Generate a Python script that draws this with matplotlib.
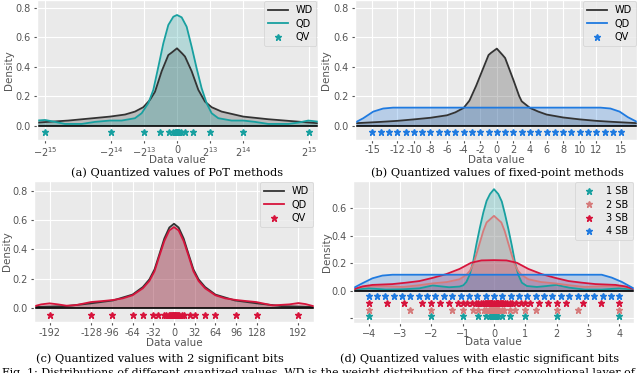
import matplotlib.pyplot as plt

# (a) PoT quantization
wd_a_x = [-34840, -26980, -16630, -12910, -10430, -8360, -6700, -5460, -3800, -2150, -1320, 0,
          1320, 1990, 3640, 5300, 6950, 8600, 11090, 16470, 22670, 27640, 34920]
wd_a_y = [0.020, 0.034, 0.061, 0.075, 0.095, 0.125, 0.175, 0.230, 0.370, 0.480, 0.497, 0.526,
          0.490, 0.470, 0.370, 0.243, 0.163, 0.125, 0.095, 0.061, 0.043, 0.032, 0.016]
qd_a_x = [-34840, -32770, -30290, -27800, -23670, -20360, -16630, -13740, -10430, -8770, -7120,
          -5875, -4630, -3390, -2150, -910, 0, 1160, 2400, 3640, 4880, 6120, 7365, 8600, 10260,
          13570, 16470, 19360, 22670, 27640, 30120, 32600, 34920]
qd_a_y = [0.034, 0.038, 0.025, 0.011, 0.011, 0.025, 0.034, 0.034, 0.050, 0.084, 0.152,
          0.243, 0.400, 0.560, 0.685, 0.741, 0.753, 0.737, 0.673, 0.537, 0.390, 0.254, 0.152,
          0.084, 0.050, 0.034, 0.034, 0.025, 0.011, 0.011, 0.020, 0.034, 0.027]
qv_a = [-32768, -16384, -8192, -4096, -2048, -1024, -512, -256, -128, -64, -32, -16, -8, -4, -2, -1, 0,
        1, 2, 4, 8, 16, 32, 64, 128, 256, 512, 1024, 2048, 4096, 8192, 16384, 32768]
ticks_a = [-32768, -16384, -8192, 0, 8192, 16384, 32768]
labels_a = [r'$-2^{15}$', r'$-2^{14}$', r'$-2^{13}$', '0', r'$2^{13}$', r'$2^{14}$', r'$2^{15}$']

# (b) fixed-point quantization
wd_b_x = [-17, -14, -12, -10, -8, -6, -5, -4, -3.3, -2.5, -2, -1, -0.7, 0, 0.7, 1, 2, 2.7, 3,
          4, 5, 6, 8, 10, 12, 14, 17]
wd_b_y = [0.016, 0.025, 0.032, 0.042, 0.053, 0.070, 0.090, 0.120, 0.170, 0.270, 0.340, 0.480,
          0.495, 0.524, 0.480, 0.460, 0.310, 0.200, 0.165, 0.120, 0.095, 0.075, 0.055, 0.042,
          0.032, 0.025, 0.016]
qd_b_x = [-17, -16.1, -14.9, -13.7, -12.5, 12.5, 13.7, 14.8, 15.8, 16.9]
qd_b_y = [0.023, 0.050, 0.095, 0.116, 0.122, 0.122, 0.116, 0.095, 0.057, 0.025]
qv_b = [-15, -14, -13, -12, -11, -10, -9, -8, -7, -6, -5, -4, -3, -2, -1, 0,
        1, 2, 3, 4, 5, 6, 7, 8, 9, 10, 11, 12, 13, 14, 15]
ticks_b = [-15, -12, -10, -8, -6, -4, -2, 0, 2, 4, 6, 8, 10, 12, 15]
labels_b = ['-15', '-12', '-10', '-8', '-6', '-4', '-2', '0', '2', '4', '6', '8', '10', '12', '15']

# (c) 2 significant bits
wd_c_x = [-215, -166, -128, -94, -64, -48, -38, -30, -22.6, -14.9, -7.2, 0,
          7.2, 14.9, 22.6, 30, 38, 48, 64, 94, 128, 166, 215]
wd_c_y = [0.005, 0.011, 0.030, 0.050, 0.090, 0.142, 0.194, 0.263, 0.366, 0.475, 0.550, 0.576,
          0.550, 0.475, 0.366, 0.263, 0.194, 0.142, 0.090, 0.050, 0.030, 0.011, 0.005]
qd_c_x = [-215, -205, -192, -179, -166, -151, -128, -110, -94, -79, -64, -48, -38, -30, -22.6,
          -14.9, -7.2, 0, 7.2, 14.9, 22.6, 30, 38, 48, 64, 79, 96, 111, 127, 152, 178, 192, 203, 215]
qd_c_y = [0.011, 0.023, 0.030, 0.023, 0.014, 0.018, 0.039, 0.046, 0.053, 0.064, 0.085, 0.133,
          0.183, 0.250, 0.354, 0.457, 0.530, 0.553, 0.530, 0.457, 0.354, 0.250, 0.183, 0.133,
          0.085, 0.064, 0.053, 0.046, 0.039, 0.016, 0.023, 0.032, 0.025, 0.011]
qv_c = [-192, -128, -96, -64, -48, -32, -24, -16, -12, -8, -6, -4, -3, -2, -1, 0,
        1, 2, 3, 4, 6, 8, 12, 16, 24, 32, 48, 64, 96, 128, 192]
ticks_c = [-192, -128, -96, -64, -32, 0, 32, 64, 96, 128, 192]
labels_c = ['-192', '-128', '-96', '-64', '-32', '0', '32', '64', '96', '128', '192']

# (d) elastic significant bits
sb1_x = [-4.47, -4.0, -3.45, -2.92, -2.38, -1.96, -1.43, -1.1, -0.98, -0.88, -0.77, -0.66, -0.56,
         -0.45, -0.34, -0.235, -0.128, 0, 0.14, 0.25, 0.35, 0.46, 0.57, 0.67, 0.78, 0.89, 1.05,
         1.37, 1.69, 2.0, 2.4, 2.9, 3.45, 4.0, 4.47]
sb1_y = [0.010, 0.019, 0.010, 0.012, 0.019, 0.040, 0.027, 0.032, 0.041, 0.066, 0.121, 0.218, 0.340,
         0.460, 0.570, 0.655, 0.704, 0.740, 0.704, 0.650, 0.560, 0.450, 0.330, 0.210, 0.115, 0.060,
         0.036, 0.029, 0.036, 0.044, 0.024, 0.010, 0.010, 0.019, 0.010]
sb2_x = [-4.47, -4.0, -3.45, -2.9, -2.38, -1.96, -1.5, -1.1, -0.88, -0.77, -0.66, -0.56, -0.45,
         -0.34, -0.235, 0, 0.235, 0.34, 0.45, 0.56, 0.66, 0.77, 0.88, 1.1, 1.5, 1.96, 2.38,
         2.9, 3.45, 4.0, 4.47]
sb2_y = [0.019, 0.034, 0.034, 0.029, 0.042, 0.055, 0.065, 0.085, 0.117, 0.146, 0.194, 0.267, 0.352,
         0.437, 0.498, 0.546, 0.498, 0.437, 0.352, 0.267, 0.194, 0.146, 0.117, 0.085, 0.065, 0.055,
         0.042, 0.029, 0.034, 0.034, 0.019]
sb3_x = [-4.47, -4.2, -3.88, -3.24, -2.81, -2.38, -1.96, -1.53, -1.1, -0.73, -0.4, 0,
         0.4, 0.73, 1.1, 1.53, 1.96, 2.38, 2.81, 3.24, 3.88, 4.2, 4.47]
sb3_y = [0.012, 0.033, 0.044, 0.050, 0.060, 0.072, 0.095, 0.122, 0.160, 0.205, 0.222, 0.224,
         0.222, 0.205, 0.160, 0.122, 0.095, 0.072, 0.060, 0.050, 0.044, 0.033, 0.012]
sb4_x = [-4.5, -4.2, -3.88, -3.56, -3.24, 3.44, 3.76, 4.08, 4.47]
sb4_y = [0.020, 0.056, 0.092, 0.112, 0.118, 0.118, 0.097, 0.066, 0.017]
qv_d1 = [-4, -2, -1, -0.5, -0.25, -0.125, -0.0625, -0.03125, 0, 0.03125, 0.0625, 0.125, 0.25,
         0.5, 1, 2, 4]
qv_d2 = [-4, -2.667, -2, -1.333, -1, -0.667, -0.5, -0.333, -0.25, -0.167, -0.125, -0.083, -0.0625,
         -0.042, 0, 0.042, 0.0625, 0.083, 0.125, 0.167, 0.25, 0.333, 0.5, 0.667, 1, 1.333, 2,
         2.667, 4]
qv_d3 = [-4, -3.429, -2.857, -2.286, -2, -1.714, -1.429, -1.143, -1, -0.857, -0.714, -0.571, -0.5,
         -0.429, -0.357, -0.286, -0.25, -0.214, -0.179, -0.143, -0.125, -0.107, -0.089, -0.071,
         -0.0625, 0, 0.0625, 0.071, 0.089, 0.107, 0.125, 0.143, 0.179, 0.214, 0.25, 0.286, 0.357,
         0.429, 0.5, 0.571, 0.714, 0.857, 1, 1.143, 1.429, 1.714, 2, 2.286, 2.857, 3.429, 4]
qv_d4 = [-4, -3.733, -3.467, -3.2, -2.933, -2.667, -2.4, -2.133, -1.867, -1.6, -1.333, -1.067,
         -0.8, -0.533, -0.267, 0, 0.267, 0.533, 0.8, 1.067, 1.333, 1.6, 1.867, 2.133, 2.4, 2.667,
         2.933, 3.2, 3.467, 3.733, 4]

TEAL = '#18a0a0'
BLUE = '#1f7ae0'
RED = '#d7143c'
SALMON = '#d67b7b'
GRAY = '#333333'

plt.style.use('ggplot')
plt.rcParams['axes.facecolor'] = '#EAEAEA'
plt.rcParams['xtick.labelsize'] = 7
plt.rcParams['ytick.labelsize'] = 7
plt.rcParams['xtick.major.size'] = 2.5
plt.rcParams['ytick.major.size'] = 2.5
plt.rcParams['xtick.major.pad'] = 1.5
plt.rcParams['ytick.major.pad'] = 2
plt.rcParams['axes.labelsize'] = 7.5
plt.rcParams['axes.labelcolor'] = '#555555'
plt.rcParams['legend.fontsize'] = 7
plt.rcParams['legend.labelspacing'] = 0.35
plt.rcParams['legend.borderaxespad'] = 0.15

fig = plt.figure(figsize=(6.4, 3.73), dpi=100)


def set_labels(ax, xl, yl):
    ax.set_xlabel('Data value', va='center')
    ax.set_ylabel('Density', va='center')
    ax.xaxis.set_label_coords(0.5, xl)
    ax.yaxis.set_label_coords(yl, 0.5)


def density_panel(rect, wd_x, wd_y, qd_x, qd_y, qv, color, xlim, ylim, qv_y):
    ax = fig.add_axes(rect)
    ax.plot(wd_x, wd_y, color=GRAY, lw=1.3, label='WD')
    ax.fill_between(wd_x, wd_y, color=GRAY, alpha=0.25, lw=0)
    ax.plot(qd_x, qd_y, color=color, lw=1.3, label='QD')
    ax.fill_between(qd_x, qd_y, color=color, alpha=0.25, lw=0)
    ax.plot(qv, [qv_y] * len(qv), '*', color=color, ms=5, ls='none', label='QV')
    ax.axhline(0, color='black', lw=1.2)
    ax.set_xlim(xlim)
    ax.set_ylim(ylim)
    ax.set_yticks([0.0, 0.2, 0.4, 0.6, 0.8])
    ax.legend(loc='upper right')
    return ax


ax = density_panel([0.0573, 0.626, 0.4395, 0.374], wd_a_x, wd_a_y, qd_a_x, qd_a_y, qv_a, TEAL,
                   (-34840, 35000), (-0.095, 0.855), -0.047)
ax.set_xticks(ticks_a, labels_a)
set_labels(ax, -0.147, -0.097)

ax = density_panel([0.5547, 0.626, 0.4406, 0.374], wd_b_x, wd_b_y, qd_b_x, qd_b_y, qv_b, BLUE,
                   (-17.1, 16.9), (-0.095, 0.855), -0.047)
ax.set_xticks(ticks_b, labels_b)
set_labels(ax, -0.147, -0.102)

ax = density_panel([0.0531, 0.1367, 0.4375, 0.378], wd_c_x, wd_c_y, qd_c_x, qd_c_y, qv_c, RED,
                   (-216, 216), (-0.098, 0.869), -0.052)
ax.set_xticks(ticks_c, labels_c)
set_labels(ax, -0.147, -0.097)

ax = fig.add_axes([0.5516, 0.134, 0.439, 0.381])
for xs, ys, qv, c, name, row in [(sb1_x, sb1_y, qv_d1, TEAL, '1 SB', -0.185),
                                 (sb2_x, sb2_y, qv_d2, SALMON, '2 SB', -0.135),
                                 (sb3_x, sb3_y, qv_d3, RED, '3 SB', -0.085),
                                 (sb4_x, sb4_y, qv_d4, BLUE, '4 SB', -0.035)]:
    ax.plot(xs, ys, color=c, lw=1.3)
    ax.fill_between(xs, ys, color=c, alpha=0.25, lw=0)
    ax.plot(qv, [row] * len(qv), '*', color=c, ms=5, ls='none', label=name)
ax.axhline(0, color='black', lw=1.2)
ax.set_xlim(-4.5, 4.47)
ax.set_ylim(-0.233, 0.80)
ax.set_yticks([-0.2, 0.0, 0.2, 0.4, 0.6], ['', '0.0', '0.2', '0.4', '0.6'])
ax.set_xticks([-4, -3, -2, -1, 0, 1, 2, 3, 4])
set_labels(ax, -0.137, -0.093)
ax.legend(loc='upper right')

cap = dict(ha='center', va='center', family='DejaVu Serif', fontsize=8.2, color='black')
fig.text(177 / 640, 1 - 173 / 373, '(a) Quantized values of PoT methods', **cap)
fig.text(497 / 640, 1 - 173 / 373, '(b) Quantized values of fixed-point methods', **cap)
fig.text(160 / 640, 1 - 359 / 373, '(c) Quantized values with 2 significant bits', **cap)
fig.text(480 / 640, 1 - 359 / 373, '(d) Quantized values with elastic significant bits', **cap)
fig.text(0.003, -2.5 / 373, 'Fig. 1: Distributions of different quantized values. WD is the weight '
         'distribution of the first convolutional layer of', ha='left', va='baseline',
         family='DejaVu Serif', fontsize=7.9)

fig.savefig('out.png', dpi=100)
